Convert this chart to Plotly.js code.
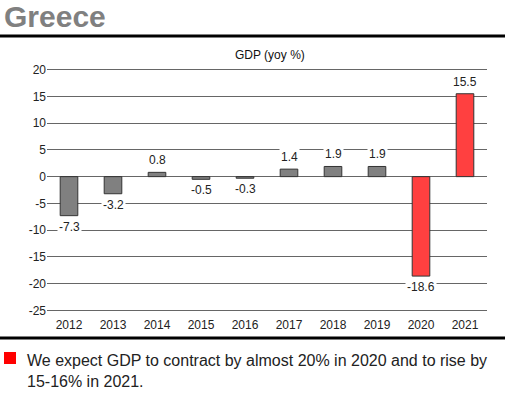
<!DOCTYPE html>
<html><head><meta charset="utf-8">
<script src="https://cdn.plot.ly/plotly-3.0.1.min.js"></script>
<style>html,body{margin:0;padding:0;background:#fff}#c{width:512px;height:396px}</style>
</head><body><div id="c"></div>
<script>
const years = ['2012','2013','2014','2015','2016','2017','2018','2019','2020','2021'];
const gdp = [-7.3, -3.2, 0.8, -0.5, -0.3, 1.4, 1.9, 1.9, -18.6, 15.5];
const barColors = ['#808080','#808080','#808080','#808080','#808080','#808080','#808080','#808080','#ff4040','#ff4040'];
const labels = ['-7.3','-3.2','0.8','-0.5','-0.3','1.4','1.9','1.9','-18.6','15.5'];
const yTicks = [20,15,10,5,0,-5,-10,-15,-20,-25];

const W=512,H=396,L=47,R=25,T=67,B=83;
const ph=H-T-B;
function py(p){return (H-B-p)/ph;}
function px(p){return (p-L)/(W-L-R);}

const annotations = years.map((y,i)=>({
  x:i, y:gdp[i], xref:'x', yref:'y', text:labels[i], showarrow:false,
  xanchor:'center', yanchor: gdp[i]>=0?'bottom':'top', yshift: gdp[i]>=0?3:-2,
  font:{family:'Arial, Liberation Sans', size:12, color:'#222'},
  bgcolor:'#fff', borderpad:1
}));
annotations.push({xref:'paper',yref:'paper',x:px(270),y:py(55),xanchor:'center',yanchor:'middle',text:'GDP (yoy %)',showarrow:false,
  font:{family:'Arial, Liberation Sans',size:12,color:'#111'}});
annotations.push({xref:'paper',yref:'paper',x:px(25),y:py(371),xanchor:'left',yanchor:'middle',align:'left',
  text:'We expect GDP to contract by almost 20% in 2020 and to rise by<br>15-16% in 2021.',showarrow:false,
  font:{family:'Arial, Liberation Sans',size:16,color:'#222'}});

const shapes = [
  {type:'line',xref:'paper',yref:'paper',x0:px(0),x1:px(505),y0:py(36),y1:py(36),line:{color:'#000',width:3}},
  {type:'line',xref:'paper',yref:'paper',x0:px(0),x1:px(505),y0:py(338),y1:py(338),line:{color:'#000',width:3}},
  {type:'rect',xref:'paper',yref:'paper',x0:px(4),x1:px(16),y0:py(352),y1:py(364),fillcolor:'#ff0000',line:{width:0}}
];

const standoff0 = 0;
Plotly.newPlot('c',[{
  type:'bar', x:years, y:gdp, width:0.4,
  marker:{color:barColors, line:{color:'#333',width:1}},
  hoverinfo:'skip'
}],{
  width:W,height:H,margin:{l:L,r:R,t:T,b:B},
  paper_bgcolor:'#fff',plot_bgcolor:'#fff',showlegend:false,
  title:{text:'<b>Greece</b>',xref:'container',yref:'container',x:4/W,xanchor:'left',y:1-16/H,yanchor:'middle',
    font:{family:'Arial, Liberation Sans',size:30,color:'#808080'}},
  xaxis:{type:'category',range:[-0.5,9.5],showgrid:false,showline:false,zeroline:false,ticks:'',ticklabelstandoff:3,
    tickfont:{family:'Arial, Liberation Sans',size:12,color:'#222'},fixedrange:true},
  yaxis:{range:[-25.5,20.5],tickvals:yTicks,ticktext:yTicks.map(String),showgrid:true,gridcolor:'#666',gridwidth:1,
    zeroline:true,zerolinecolor:'#666',zerolinewidth:1,showline:false,ticks:'',ticklen:0,ticklabelstandoff:standoff0,
    tickfont:{family:'Arial, Liberation Sans',size:12,color:'#222'},fixedrange:true},
  annotations:annotations, shapes:shapes
},{staticPlot:true}).then(gd=>{
  // place y tick labels so their right edge sits at x=35 like the reference
  let right=-Infinity;
  gd.querySelectorAll('.ytick text').forEach(t=>{const r=t.getBoundingClientRect(); if(r.right>right) right=r.right;});
  const cont=gd.getBoundingClientRect();
  right-=cont.left;
  if(isFinite(right)){
    const s = standoff0 + (right-35);
    return Plotly.relayout(gd,{'yaxis.ticklabelstandoff':s});
  }
});
</script></body></html>
